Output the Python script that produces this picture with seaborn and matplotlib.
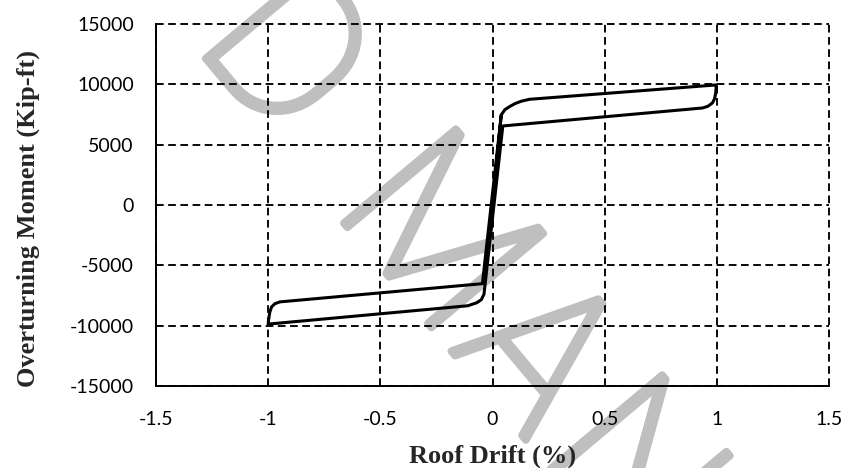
import numpy as np
import matplotlib
matplotlib.use("Agg")
import matplotlib.pyplot as plt
import matplotlib.patheffects as pe
from matplotlib.font_manager import FontProperties
from matplotlib.textpath import TextPath
import pandas as pd
import seaborn as sns

# Roof drift (%) and overturning moment (kip-ft) traced around one full cycle
drift = [0.000, 0.039, 0.055, 0.076, 0.100, 0.128, 0.165, 0.997,
         0.998, 0.995, 0.990, 0.980, 0.960, 0.936, 0.046,
         -0.038, -0.050, -0.070, -0.110, -1.000,
         -0.998, -0.993, -0.985, -0.970, -0.948, -0.045, 0.039]
moment = [0, 7460, 7900, 8150, 8400, 8600, 8760, 9950,
          9950, 9300, 8800, 8450, 8180, 8040, 6550,
          -7400, -7850, -8100, -8350, -9870,
          -9500, -8900, -8450, -8180, -8030, -6520, 7460]

x_ticks = [-1.5, -1.0, -0.5, 0.0, 0.5, 1.0, 1.5]
x_tick_labels = ["-1.5", "-1", "-0.5", "0", "0.5", "1", "1.5"]
y_ticks = [-15000, -10000, -5000, 0, 5000, 10000, 15000]
y_tick_labels = ["-15000", "-10000", "-5000", "0", "5000", "10000", "15000"]

x_label = "Roof Drift (%)"
y_label = "Overturning Moment (Kip-ft)"

# watermark letters and where each glyph's ink starts (px) along the slanted baseline
wm_letters = ["D", "M", "A", "N"]
wm_offsets = [-2, 213, 380, 534]

sns.set_style("white")
plt.rcParams["axes.unicode_minus"] = False
plt.rcParams["font.family"] = ["Lato", "DejaVu Sans"]

df = pd.DataFrame({"drift": drift, "moment": moment})

W, H, DPI = 846, 468, 100
fig = plt.figure(figsize=(W / DPI, H / DPI), dpi=DPI, facecolor="white")
ax = fig.add_axes([156 / W, 1 - 386 / H, 673 / W, 362 / H])
ax.patch.set_visible(False)

# faint diagonal watermark behind the chart
wm_color = "#bfbfbf"
wm_size = 148
wm_font = FontProperties(family="Roboto", weight="light", size=wm_size)
em_px = wm_size * DPI / 72
wm_origin = (207, 60)
wm_angle = 50
c, s = np.cos(np.radians(wm_angle)), np.sin(np.radians(wm_angle))
for ch, u0 in zip(wm_letters, wm_offsets):
    lsb = TextPath((0, 0), ch, size=em_px, prop=wm_font).get_extents().x0
    u = u0 - lsb
    xs = wm_origin[0] + u * c
    ys = wm_origin[1] + u * s
    fig.text(xs / W, 1 - ys / H, ch, fontproperties=wm_font,
             rotation=-wm_angle, rotation_mode="anchor",
             ha="left", va="baseline", color=wm_color, zorder=-5,
             path_effects=[pe.withStroke(linewidth=5.5, foreground=wm_color)])

sns.lineplot(data=df, x="drift", y="moment", sort=False, estimator=None,
             color="black", linewidth=2.2, ax=ax, zorder=3)

ax.set_xlim(-1.5, 1.5)
ax.set_ylim(-15000, 15000)
ax.set_xticks(x_ticks)
ax.set_xticklabels(x_tick_labels)
ax.set_yticks(y_ticks)
ax.set_yticklabels(y_tick_labels)

ax.grid(True, color="black", linestyle=(0, (4.1, 2.4)), linewidth=1.35)
for gl in ax.get_xgridlines() + ax.get_ygridlines():
    gl.set_clip_on(False)
ax.set_axisbelow(True)

for side in ("top", "right"):
    ax.spines[side].set_visible(False)
for side in ("left", "bottom"):
    ax.spines[side].set_color("black")
    ax.spines[side].set_linewidth(1.4)
    ax.spines[side].set_zorder(2.5)

ax.tick_params(axis="both", length=0, labelsize=14, colors="black")
ax.tick_params(axis="x", pad=18)
ax.tick_params(axis="y", pad=16)

label_font = dict(family="Liberation Serif", fontweight="bold", fontsize=19)
ax.set_xlabel(x_label, **label_font)
ax.set_ylabel(y_label, **label_font)
ax.xaxis.set_label_coords(0.5, -0.163)
ax.yaxis.set_label_coords(-0.172, 0.463)

fig.savefig("out.png", dpi=DPI, facecolor="white")
